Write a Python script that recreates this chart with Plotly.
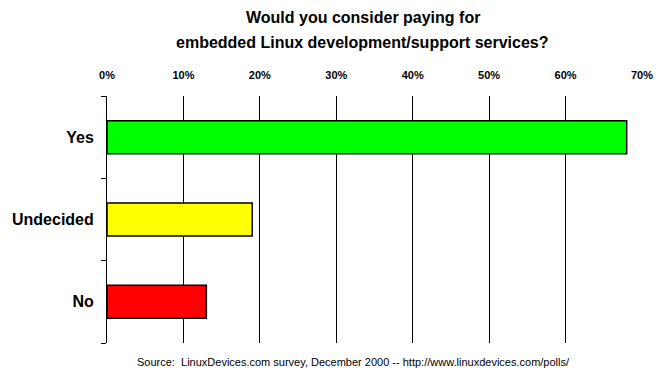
import plotly.graph_objects as go

categories = ["Yes", "Undecided", "No"]
values = [68, 19, 13]
colors = ["#00FF00", "#FFFF00", "#FF0000"]
tick_vals = [0, 10, 20, 30, 40, 50, 60, 70]
tick_text = ["0%", "10%", "20%", "30%", "40%", "50%", "60%", "70%"]
title_lines = ["Would you consider paying for", "embedded Linux development/support services?"]
source_text = "Source:  LinuxDevices.com survey, December 2000 -- http://www.linuxdevices.com/polls/"

FONT = "Liberation Sans, Arial, sans-serif"

fig = go.Figure()
fig.add_trace(go.Bar(
    x=values, y=categories, orientation="h",
    marker=dict(color=colors, line=dict(color="black", width=1.5)),
    width=0.4,
))

fig.update_layout(
    width=669, height=390,
    margin=dict(l=99, r=35, t=88, b=55),
    paper_bgcolor="white", plot_bgcolor="white",
    showlegend=False,
    font=dict(family=FONT, color="black"),
    xaxis=dict(
        side="top", range=[0, 70], tickvals=tick_vals,
        ticktext=["<b>%s</b>" % t for t in tick_text],
        showgrid=True, gridcolor="black", gridwidth=1, zeroline=False,
        showline=False, ticks="", ticklabelstandoff=14,
        tickfont=dict(size=11, family=FONT, color="black"),
        fixedrange=True,
    ),
    yaxis=dict(
        categoryorder="array", categoryarray=categories[::-1],
        range=[-0.5, 2.5], tickson="boundaries", ticks="outside", ticklen=5,
        tickcolor="black", tickwidth=1,
        showline=True, linecolor="black", linewidth=1,
        showgrid=False, zeroline=False,
        tickvals=categories[::-1],
        ticktext=["<b>%s</b>" % c for c in categories[::-1]],
        tickfont=dict(size=16, color="black", family=FONT),
        ticklabelstandoff=9,
        automargin=False,
    ),
)

for line, py in zip(title_lines, [1.3198, 1.2186]):
    fig.add_annotation(
        text="<b>%s</b>" % line, xref="paper", yref="paper", x=0.4785, y=py,
        xanchor="center", yanchor="middle", showarrow=False,
        font=dict(size=16, color="black", family=FONT),
    )

fig.add_annotation(
    text=source_text,
    xref="paper", yref="paper", x=0.46, y=0, yanchor="top", xanchor="center",
    yshift=-11, showarrow=False, font=dict(size=11, color="black", family=FONT),
)

fig.write_html("out.html")
